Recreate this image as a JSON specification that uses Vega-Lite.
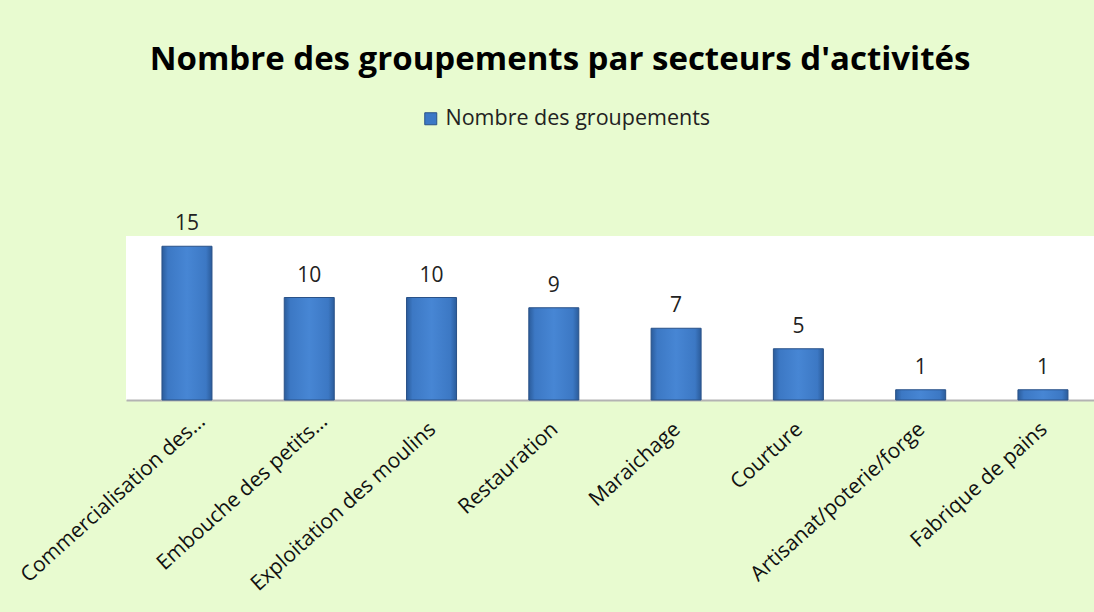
{
  "$schema": "https://vega.github.io/schema/vega-lite/v6.json",
  "width": 968,
  "height": 164,
  "autosize": {"type": "none"},
  "padding": {"left": 126, "top": 236, "right": 0, "bottom": 212},
  "background": "#e8fbd0",
  "title": {
    "text": "Nombre des groupements par secteurs d'activités",
    "fontSize": 33,
    "font": "Open Sans",
    "fontWeight": "bold",
    "color": "#000000",
    "anchor": "middle",
    "dx": -50,
    "offset": 31
  },
  "data": {
    "values": [
      {"secteur": "Commercialisation des…", "n": 15},
      {"secteur": "Embouche des petits…", "n": 10},
      {"secteur": "Exploitation des moulins", "n": 10},
      {"secteur": "Restauration", "n": 9},
      {"secteur": "Maraichage", "n": 7},
      {"secteur": "Courture", "n": 5},
      {"secteur": "Artisanat/poterie/forge", "n": 1},
      {"secteur": "Fabrique de pains", "n": 1}
    ]
  },
  "layer": [
    {
      "mark": {
        "type": "bar",
        "stroke": "#2a5288",
        "strokeWidth": 1,
        "fill": {"gradient": "linear", "x1": 0, "x2": 1, "y1": 0, "y2": 0,
          "stops": [
            {"offset": 0, "color": "#2b5c9b"},
            {"offset": 0.12, "color": "#3c78c4"},
            {"offset": 0.5, "color": "#4786d4"},
            {"offset": 0.88, "color": "#3c78c4"},
            {"offset": 1, "color": "#2b5c9b"}
          ]}
      },
      "encoding": {
        "x": {
          "field": "secteur",
          "type": "nominal",
          "sort": null,
          "scale": {"paddingInner": 0.591, "paddingOuter": 0.2535, "align": 0.58},
          "axis": {
            "title": null,
            "labelAngle": -42,
            "labelFontSize": 21,
            "labelFont": "Open Sans",
            "labelColor": "#111111",
            "ticks": false,
            "domainColor": "#b3b3b3",
            "domainWidth": 2,
            "labelPadding": {"condition": {"test": "indexof(datum.label, '…') >= 0", "value": 10}, "value": 18},
            "labelOffset": {"condition": {"test": "indexof(datum.label, '…') >= 0", "value": 8}, "value": -6},
            "labelLimit": 400
          }
        },
        "y": {"field": "n", "type": "quantitative", "scale": {"domain": [0, 16]}, "axis": null}
      }
    },
    {
      "transform": [{"filter": "false"}],
      "mark": {"type": "bar", "stroke": "#2a5288", "strokeWidth": 1},
      "encoding": {
        "x": {"field": "secteur", "type": "nominal", "sort": null},
        "y": {"field": "n", "type": "quantitative"},
        "color": {
          "datum": "Nombre des groupements",
          "scale": {"range": ["#3b78c6"]},
          "legend": {
            "title": null,
            "orient": "none",
            "legendX": 294,
            "legendY": -128,
            "symbolType": "square",
            "symbolSize": 144,
            "symbolStrokeColor": "#2a5288",
            "symbolStrokeWidth": 1,
            "labelFontSize": 21.5,
            "labelFont": "Open Sans",
            "labelColor": "#222222",
            "labelOffset": 4,
            "labelLimit": 400
          }
        }
      }
    },
    {
      "mark": {"type": "text", "baseline": "bottom", "dy": -12, "fontSize": 21, "font": "Open Sans", "color": "#222222"},
      "encoding": {
        "x": {"field": "secteur", "type": "nominal", "sort": null},
        "y": {"field": "n", "type": "quantitative"},
        "text": {"field": "n", "type": "quantitative"}
      }
    }
  ],
  "config": {"view": {"fill": "white", "stroke": null}}
}
